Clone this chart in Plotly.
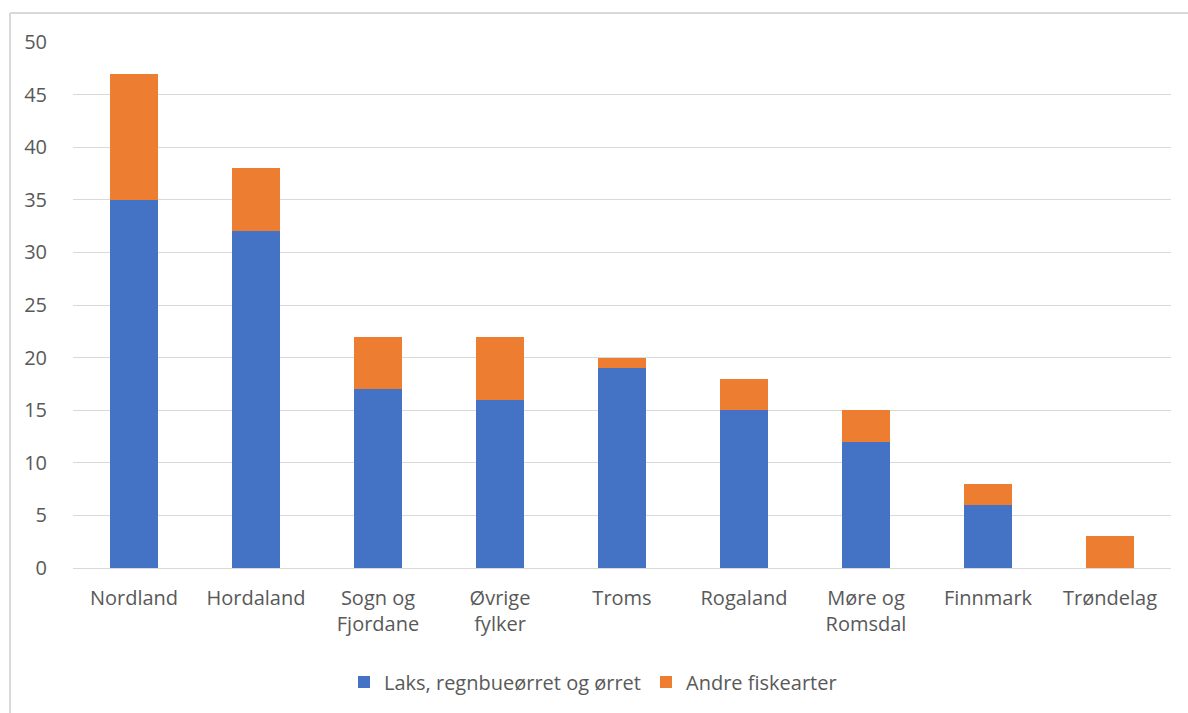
import plotly.graph_objects as go

categories = ["Nordland", "Hordaland", "Sogn og<br>Fjordane", "Øvrige<br>fylker", "Troms",
              "Rogaland", "Møre og<br>Romsdal", "Finnmark", "Trøndelag"]
laks = [35, 32, 17, 16, 19, 15, 12, 6, 0]
andre = [12, 6, 5, 6, 1, 3, 3, 2, 3]
yticks = [0, 5, 10, 15, 20, 25, 30, 35, 40, 45, 50]

font = dict(family="Open Sans", size=20, color="#595959")

fig = go.Figure()
fig.add_trace(go.Bar(x=categories, y=laks, name="Laks, regnbueørret og ørret",
                     marker=dict(color="#4472C4", line=dict(width=0))))
fig.add_trace(go.Bar(x=categories, y=andre, name="Andre fiskearter",
                     marker=dict(color="#ED7D31", line=dict(width=0))))

W, H = 1188, 713
L, R, T, B = 73, 17, 42, 145
pw, ph = W - L - R, H - T - B

def px_x(p):
    return (p - L) / pw

def px_y(p):
    return (H - B - p) / ph

fig.update_layout(
    width=W, height=H,
    margin=dict(l=L, r=R, t=T, b=B),
    barmode="stack", bargap=0.61,
    plot_bgcolor="white", paper_bgcolor="white",
    font=font,
    showlegend=True,
    legend=dict(orientation="h", x=px_x(593), xanchor="center", y=px_y(682), yanchor="middle",
                font=dict(family="Open Sans", size=20, color="#595959"),
                traceorder="normal", itemclick=False),
    xaxis=dict(showgrid=False, showline=False, ticks="outside", ticklen=12,
               tickcolor="rgba(0,0,0,0)", tickfont=font),
    yaxis=dict(range=[0, 50], tickvals=yticks, showgrid=True, gridcolor="#d9d9d9",
               gridwidth=1.3, zeroline=True, zerolinecolor="#d9d9d9", zerolinewidth=1.3,
               ticks="outside", ticklen=21, tickcolor="rgba(0,0,0,0)", tickfont=font),
    shapes=[
        dict(type="line", xref="paper", yref="paper", x0=px_x(10), x1=px_x(1300),
             y0=px_y(13), y1=px_y(13), line=dict(color="#d9d9d9", width=2)),
        dict(type="line", xref="paper", yref="paper", x0=px_x(10), x1=px_x(10),
             y0=px_y(13), y1=px_y(800), line=dict(color="#d9d9d9", width=2)),
    ],
)

fig.write_html("out.html")
